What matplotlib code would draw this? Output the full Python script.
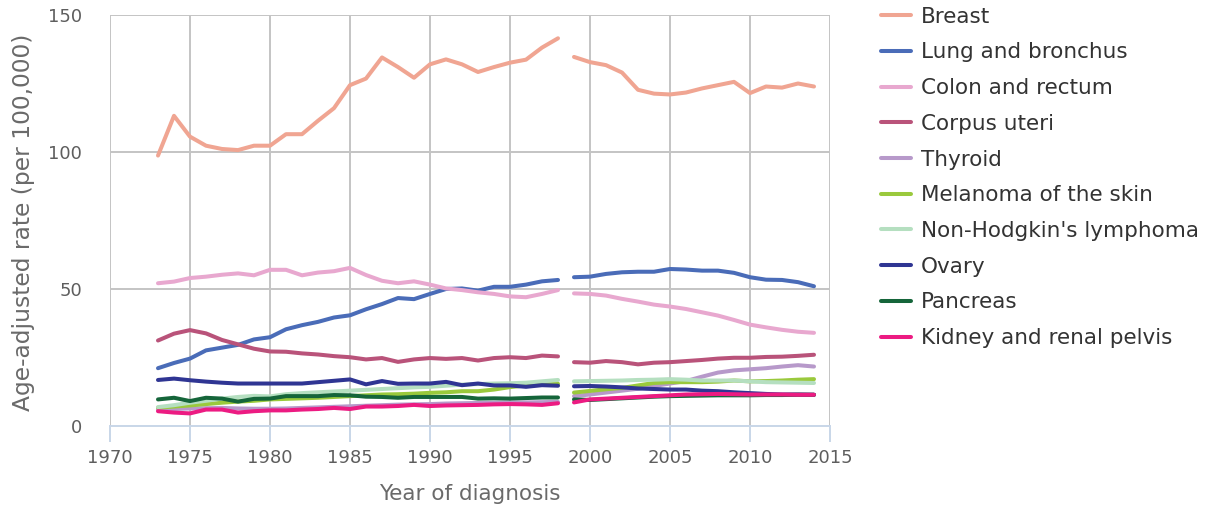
import numpy as np
import matplotlib.pyplot as plt

years1 = list(range(1973, 1999))
years2 = list(range(1999, 2015))

sites = ["Breast", "Lung and bronchus", "Colon and rectum", "Corpus uteri", "Thyroid",
         "Melanoma of the skin", "Non-Hodgkin's lymphoma", "Ovary", "Pancreas",
         "Kidney and renal pelvis"]

breast1 = [98.7, 113.2, 105.6, 102.3, 101.1, 100.7, 102.3, 102.3, 106.5, 106.5, 111.4, 116, 124.4,
           126.8, 134.5, 131, 127.1, 132, 133.8, 132, 129.2, 131, 132.6, 133.7, 138.1, 141.5]
breast2 = [134.7, 132.8, 131.7, 129, 122.7, 121.3, 121, 121.7, 123.2, 124.4, 125.6, 121.5, 123.9,
           123.5, 125, 123.9]
lung1 = [21.1, 23, 24.6, 27.6, 28.6, 29.6, 31.6, 32.4, 35.3, 36.8, 38, 39.6, 40.4, 42.6, 44.5,
         46.7, 46.3, 48.2, 50, 50.2, 49.4, 50.8, 50.8, 51.6, 52.8, 53.3]
lung2 = [54.3, 54.5, 55.5, 56.1, 56.3, 56.3, 57.3, 57.1, 56.7, 56.7, 55.9, 54.3, 53.4, 53.3, 52.5, 51]
colon1 = [52.1, 52.7, 54, 54.5, 55.2, 55.7, 55, 57, 57, 55, 56, 56.5, 57.7, 55.1, 53, 52.1, 52.8,
          51.6, 50.2, 49.6, 48.8, 48.2, 47.3, 47, 48.2, 49.6]
colon2 = [48.4, 48.2, 47.6, 46.4, 45.4, 44.3, 43.6, 42.7, 41.5, 40.3, 38.7, 37, 36, 35.1, 34.4, 34]
corpus1 = [31.2, 33.7, 35, 33.8, 31.4, 29.8, 28.2, 27.2, 27.1, 26.5, 26.1, 25.5, 25.1, 24.3, 24.8,
           23.4, 24.3, 24.8, 24.5, 24.8, 23.9, 24.8, 25.1, 24.8, 25.7, 25.4]
corpus2 = [23.3, 23.1, 23.7, 23.3, 22.5, 23.1, 23.3, 23.7, 24.1, 24.6, 24.9, 24.9, 25.2, 25.3, 25.6, 26]
thyroid1 = [6.0, 6.2, 6.4, 6.5, 6.6, 6.4, 6.3, 6.3, 6.4, 6.6, 6.8, 7.0, 7.2, 7.4, 7.6, 7.8, 7.9, 8.0,
            8.2, 8.3, 8.4, 8.5, 8.6, 8.6, 8.7, 8.8]
thyroid2 = [10.9, 11.5, 12.2, 12.9, 13.6, 14.6, 15.5, 16.4, 18, 19.5, 20.3, 20.7, 21.1, 21.7, 22.2, 21.7]
melanoma1 = [6.7, 7.1, 7.5, 8.0, 8.5, 8.9, 9.2, 9.7, 9.9, 10.1, 10.3, 10.6, 10.9, 11.2, 11.5, 11.6,
             11.8, 12.1, 12.3, 12.7, 12.7, 13.3, 14.2, 14.8, 15.1, 15.4]
melanoma2 = [12.2, 12.8, 13.4, 13.9, 14.8, 15.7, 16, 16, 16, 16.2, 16.6, 16.3, 16.4, 16.6, 16.9, 17.1]
nhl1 = [6.9, 7.6, 8.5, 9.2, 10, 10.6, 11, 10.8, 11.6, 12, 12.3, 12.6, 12.9, 13.2, 13.5, 13.8, 14.1,
        14.3, 14.7, 15.1, 15.3, 15.5, 15.6, 15.8, 16.3, 16.8]
nhl2 = [16.3, 16.4, 16.5, 16.6, 16.8, 16.9, 17.1, 16.9, 16.6, 16.6, 16.6, 16.3, 16, 15.9, 15.8, 15.7]
ovary1 = [16.8, 17.3, 16.7, 16.2, 15.8, 15.5, 15.5, 15.5, 15.5, 15.5, 16, 16.5, 17, 15.2, 16.4, 15.4,
          15.5, 15.5, 16.1, 14.9, 15.5, 14.8, 14.8, 14.3, 14.9, 14.7]
ovary2 = [14.5, 14.6, 14.4, 14.1, 13.7, 13.5, 13.3, 13.3, 12.9, 12.7, 12.3, 12, 11.7, 11.5, 11.5, 11.4]
pancreas1 = [9.7, 10.3, 9.1, 10.3, 10, 8.9, 9.9, 10, 10.9, 10.9, 10.9, 11.3, 11.2, 10.7, 10.6, 10.3,
             10.6, 10.6, 10.6, 10.6, 10, 10.1, 10, 10.2, 10.4, 10.4]
pancreas2 = [9.7, 9.5, 9.8, 10.1, 10.4, 10.7, 10.9, 11, 11.1, 11.2, 11.2, 11.2, 11.3, 11.3, 11.4, 11.4]
kidney1 = [5.4, 4.9, 4.6, 6, 6, 4.9, 5.4, 5.7, 5.7, 6, 6.2, 6.6, 6.2, 7.1, 7.1, 7.3, 7.7, 7.3, 7.5,
           7.6, 7.7, 7.9, 8, 7.9, 7.7, 8.3]
kidney2 = [8.6, 9.7, 10, 10.3, 10.6, 10.9, 11.2, 11.5, 11.6, 11.7, 11.6, 11.5, 11.5, 11.5, 11.4, 11.4]

first = [breast1, lung1, colon1, corpus1, thyroid1, melanoma1, nhl1, ovary1, pancreas1, kidney1]
second = [breast2, lung2, colon2, corpus2, thyroid2, melanoma2, nhl2, ovary2, pancreas2, kidney2]

colors = ["#f0a592", "#4a6cb8", "#e8a8cf", "#b9537a", "#b799ca", "#9ac93c",
          "#b5dfc0", "#2f3593", "#15653a", "#ec1b82"]

grid_c = "#c4c4c4"
axis_c = "#c8d6e8"
text_c = "#5e5e5e"

fig = plt.figure(figsize=(12.12, 5.11), dpi=100)
ax = fig.add_axes([110/1212, 1-426/511, 720/1212, 411/511])

for name, a, b, c in zip(sites, first, second, colors):
    ax.plot(years1, a, color=c, lw=2.9, label=name, solid_capstyle='round', solid_joinstyle='round')
    ax.plot(years2, b, color=c, lw=2.9, solid_capstyle='round', solid_joinstyle='round')

ax.set_xlim(1970, 2015)
ax.set_ylim(0, 150)
ax.set_xticks(range(1970, 2016, 5))
ax.set_yticks([0, 50, 100, 150])
for x in range(1970, 2016, 5):
    ax.axvline(x, color=grid_c, lw=1.4, zorder=0)
for y in [50, 100, 150]:
    ax.axhline(y, color=grid_c, lw=1.4, zorder=0)

for s in ['top', 'right', 'left']:
    ax.spines[s].set_visible(False)
ax.spines['bottom'].set_color(axis_c)
ax.spines['bottom'].set_linewidth(1.4)
ax.spines['bottom'].set_zorder(0.5)
ax.tick_params(axis='x', colors=axis_c, length=11.5, width=1.4, labelcolor=text_c, labelsize=13, pad=5)
ax.tick_params(axis='y', length=0, labelcolor=text_c, labelsize=13, pad=20)
ax.set_xlabel("Year of diagnosis", color="#6a6a6a", fontsize=15.5)
ax.xaxis.set_label_coords(0.5, -0.14)
ax.set_ylabel("Age-adjusted rate (per 100,000)", color="#6a6a6a", fontsize=16.8)
ax.yaxis.set_label_coords(-0.104, 0.496)

leg = fig.legend(loc='upper left', bbox_to_anchor=(0.727, 0.987), frameon=False,
                 fontsize=15.5, handlelength=1.4, handletextpad=0.45, labelspacing=0.73,
                 borderpad=0, borderaxespad=0)
for t in leg.get_texts():
    t.set_color("#333333")

fig.savefig("out.png", dpi=100)
